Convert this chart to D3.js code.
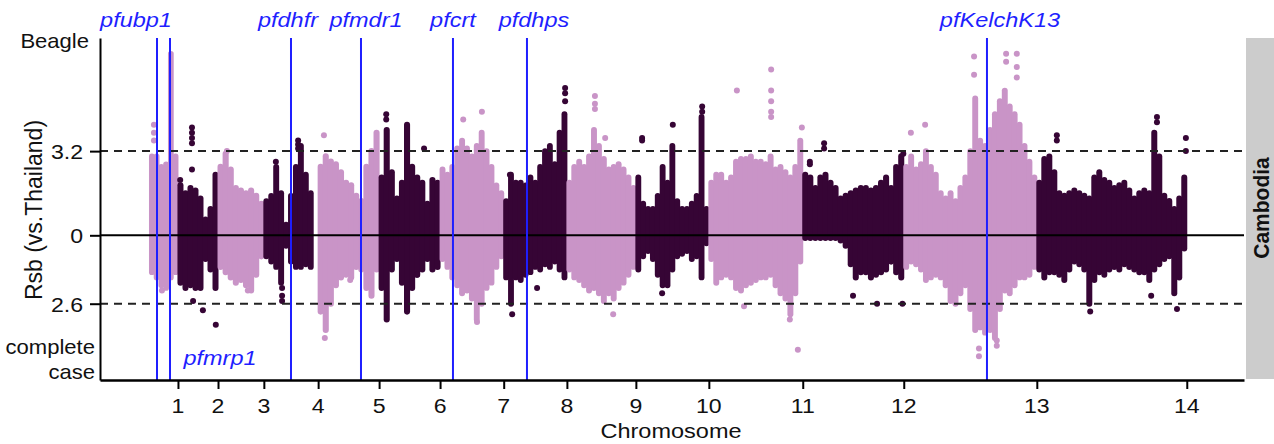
<!DOCTYPE html>
<html><head><meta charset="utf-8">
<script src="https://cdn.jsdelivr.net/npm/d3@7"></script>
<style>body{margin:0;background:#fff} text{font-family:"Liberation Sans",Arial,Helvetica,sans-serif}</style>
</head><body><svg id="chart" width="1274" height="444"></svg>
<script>
// ---------------- data ----------------
const chromLabels = ["1","2","3","4","5","6","7","8","9","10","11","12","13","14"];
// cumulative chromosome end positions (Mb)
const chromEnds = [0.64, 1.54, 2.57, 3.79, 5.16, 6.53, 7.96, 9.38, 10.93, 12.57, 14.68, 16.95, 19.94, 23.31];
// upper edge of the dense Rsb cloud, binned evenly along each chromosome
const rsbHigh = [
  [3.0, 3.0, 2.6, 2.7, 6.9, 3.0],
  [1.9, 1.6, 1.8, 1.7, 1.4, 0.6, 1.0, 2.3],
  [2.6, 3.1, 2.5, 1.8, 1.7, 1.6, 1.7, 1.5, 1.2],
  [1.3, 1.5, 2.6, 1.6, 0.4, 1.5, 2.6, 3.4, 2.3, 1.6, null],
  [2.6, 3.0, 2.8, 2.7, 2.4, 2.0, 1.9, 1.5, 1.3, 2.6, 3.2, 3.9],
  [2.2, 4.0, 2.4, 1.4, 2.0, 4.2, 2.6, 2.2, 2.0, 1.2, 2.1, 2.0],
  [2.5, 2.3, 2.6, 3.3, 3.6, 3.3, 3.0, 3.4, 3.9, 3.2, 2.6, 1.9, 1.6],
  [1.3, 2.3, 2.0, 2.0, 1.9, 2.2, 2.0, 2.6, 3.2, 3.4, 2.7, 3.9, 4.6],
  [2.0, 2.6, 2.8, 2.6, 3.0, 4.0, 3.4, 2.9, 2.5, 2.6, 2.7, 2.5, 2.2, 1.8],
  [2.2, 1.2, 1.0, 1.0, 1.5, 2.6, 2.0, 3.4, 1.3, 1.0, 1.0, 1.2, 1.5, 4.5, 1.0],
  [2.0, 2.3, 2.3, 2.0, 2.2, 2.8, 2.9, 2.9, 3.0, 2.8, 2.8, 2.7, 3.0, 2.5, 2.6, 2.4, 2.2, 2.6, 3.6],
  [2.3, 2.2, 1.8, 2.2, 2.3, 2.0, 1.8, 1.4, 1.5, 1.6, 1.7, 1.8, 1.8, 1.7, 1.8, 2.0, 2.2, 1.8, 2.6, 3.0],
  [2.6, 3.0, 2.5, 2.7, 3.2, 2.6, 2.3, 1.6, 1.4, 1.6, 1.3, 1.8, 2.2, 3.2, 5.2, 3.6, 3.4, 4.0, 4.6, 5.1, 5.5, 4.9, 4.6, 4.2, 3.4, 2.8, 2.2],
  [2.0, 2.9, 3.0, 2.4, 1.6, 1.5, 1.6, 1.7, 1.6, 1.5, 1.4, 2.2, 2.4, 2.1, 2.0, 1.8, 1.9, 2.0, 1.7, 1.4, 1.6, 1.7, 1.6, 3.9, 3.0, 1.5, 1.3, 1.0, 1.4, 2.2]
];
// lower edge of the dense Rsb cloud
const rsbLow = [
  [-1.4, -1.6, -1.9, -2.0, -1.6, -1.4],
  [-1.8, -2.0, -1.9, -2.0, -2.0, -0.9, -1.3, -2.0],
  [-1.2, -1.4, -1.6, -1.8, -1.7, -1.9, -2.1, -1.5, -0.8],
  [-0.8, -1.0, -1.2, -1.8, -0.4, -1.0, -1.2, -1.2, -1.1, -1.2, null],
  [-2.9, -3.6, -2.6, -1.9, -1.6, -1.5, -1.6, -1.2, -1.3, -2.0, -2.3, -1.3],
  [-2.0, -3.2, -1.3, -0.9, -1.8, -2.9, -2.0, -1.5, -1.3, -0.9, -1.3, -1.2],
  [-0.9, -1.2, -1.6, -1.9, -2.2, -2.1, -2.4, -3.2, -2.6, -2.0, -1.8, -1.2, -0.8],
  [-1.6, -2.6, -1.6, -1.7, -1.5, -1.4, -1.2, -1.3, -1.1, -1.2, -1.0, -1.3, -1.6],
  [-1.3, -1.6, -1.7, -1.9, -2.1, -2.0, -2.2, -2.5, -2.2, -2.4, -2.0, -1.8, -1.5, -1.2],
  [-1.3, -0.8, -0.6, -0.9, -1.5, -1.9, -1.9, -1.3, -0.8, -0.7, -0.6, -0.9, -0.8, -1.6, -0.3],
  [-0.9, -1.8, -1.6, -1.5, -1.6, -2.0, -2.1, -1.9, -1.8, -1.7, -1.6, -1.6, -1.5, -1.9, -2.2, -2.4, -3.0, -2.2, -1.0],
  [-0.1, -0.1, -0.1, -0.1, -0.1, -0.1, -0.1, -0.2, -0.4, -1.1, -1.6, -1.4, -1.4, -1.6, -1.5, -1.4, -1.3, -1.0, -1.4, -1.6],
  [-1.2, -1.0, -1.1, -1.3, -1.7, -1.6, -1.5, -1.6, -1.9, -2.5, -2.6, -2.2, -1.9, -2.8, -3.6, -3.5, -3.7, -3.6, -3.9, -2.8, -2.1, -2.2, -1.9, -1.6, -1.6, -1.5, -1.2],
  [-1.3, -1.6, -1.4, -1.4, -1.5, -1.7, -1.3, -1.0, -1.1, -1.3, -2.6, -1.7, -1.4, -1.5, -1.3, -1.2, -1.3, -1.1, -1.2, -1.3, -1.4, -1.4, -1.7, -1.3, -1.1, -0.9, -0.8, -2.2, -1.6, -0.5]
];
// isolated SNPs outside the dense cloud: position (Mb) and Rsb
const outlierPos = [0.10,0.10,0.10,0.28, 0.69,0.955,0.955,0.955,0.955,0.955,0.98,1.20,1.49,
  1.74,2.21, 2.84,2.98,2.98,2.98,3.34,3.34,3.34, 3.92,4.51,3.94, 5.32,5.32,6.17,6.01,
  7.05,7.47,7.36, 8.10,8.15,8.71,9.34,9.34,9.34, 10.01,10.01,10.01,10.42,10.24,
  11.07,11.07,11.76,12.42,12.42,11.52, 13.20,13.97,13.97,13.97,13.97,13.97,14.57,13.36,14.39,14.66,
  14.84,14.84,15.16,15.16,15.81,16.35,16.92,16.94,
  17.11,17.43,18.53,18.53,18.64,18.64,19.04,19.04,19.25,19.25,19.49,19.49,19.49,
  20.39,20.39,21.14,22.51,22.64,22.64,23.09,23.29,23.29];
const outlierRsb = [4.2,3.9,3.6,-2.1, 2.1,4.1,3.9,3.7,3.5,2.5,-2.5,-2.85,-3.4,
  3.2,-2.1, 2.8,-2.0,-2.3,-2.5,3.6,3.45,3.3, 3.8,-1.7,-3.9, 4.6,4.4,3.3,-1.5,
  4.4,4.7,-3.3, 2.3,-3.0,-2.0,5.6,5.4,5.1, 5.3,5.0,4.8,-3.0,3.7,
  3.7,3.6,4.2,4.9,4.7,-2.2, 5.5,6.3,5.5,5.1,4.7,4.5,-4.35,-2.7,-3.2,4.1,
  2.8,2.7,3.5,3.3,-2.3,-2.6,-2.6,3.1,
  3.9,4.2,6.8,6.1,-4.6,-4.3,-4.2,-4.0,6.9,6.6,6.9,6.4,6.0,
  3.8,3.6,-2.9,-2.3,4.5,4.3,-2.8,3.7,3.2];
const geneNames = ["pfubp1","pfmrp1","pfdhfr","pfmdr1","pfcrt","pfdhps","pfKelchK13"];
const genePos = [0.169, 0.461, 3.18, 4.753, 6.82, 8.483, 18.82];
const yTickValues = [3.2, 0, -2.6];
const thresholds = [3.2, -2.6];
const yEndLabels = ["Beagle", "complete", "case"];
const xTitle = "Chromosome";
const yTitle = "Rsb (vs.Thailand)";
const panelLabel = "Cambodia";

// ---------------- drawing ----------------
const svg = d3.select("#chart");
const x = d3.scaleLinear().domain([-1.112, 24.596]).range([100, 1244]);
const y = d3.scaleLinear().domain([-5.5, 7.5]).range([380, 38]);
const colors = ["#c994c7", "#360535"];
const blue = "#1f1fff";
const chromStarts = [0].concat(chromEnds.slice(0, -1));

function txt(px, py, s, o = {}) {
  const g = svg.append("g")
    .attr("transform", `translate(${px},${py}) rotate(${o.rotate || 0}) scale(${o.sx || 1.1},${o.sy || 1})`);
  g.append("text").text(s)
    .attr("text-anchor", o.anchor || "middle")
    .attr("font-size", o.size || 21)
    .attr("font-weight", o.weight || "normal")
    .attr("font-style", o.style || "normal")
    .attr("fill", o.fill || "#111");
  return g;
}

// grey panel strip
svg.append("rect").attr("x", 1246).attr("y", 38).attr("width", 28).attr("height", 341).attr("fill", "#cccccc");
txt(1269, 208, panelLabel, {rotate: -90, sx: 1, sy: 1.05, size: 21, weight: "bold"});

// dense clouds
chromEnds.forEach((end, i) => {
  const start = chromStarts[i];
  const n = rsbHigh[i].length;
  const step = (end - start) / n;
  const bw = x(start + step) - x(start);
  const g = svg.append("g").attr("stroke", colors[i % 2])
    .attr("stroke-linecap", "round").attr("stroke-width", bw + 1);
  rsbHigh[i].forEach((hi, j) => {
    const lo = rsbLow[i][j];
    if (hi == null) return;
    const cx = x(start + step * (j + 0.5));
    g.append("line").attr("x1", cx).attr("x2", cx).attr("y1", y(hi)).attr("y2", y(lo));
  });
});

// outliers
svg.append("g").selectAll("circle").data(outlierPos).join("circle")
  .attr("cx", d => x(d)).attr("cy", (d, i) => y(outlierRsb[i])).attr("r", 3)
  .attr("fill", d => colors[d3.bisectLeft(chromEnds, d) % 2]);

// threshold lines
svg.append("g").selectAll("line").data(thresholds).join("line")
  .attr("x1", 100).attr("x2", 1244).attr("y1", d => y(d)).attr("y2", d => y(d))
  .attr("stroke", "#222").attr("stroke-width", 2).attr("stroke-dasharray", "8,6");
svg.append("line").attr("x1", 100).attr("x2", 1244).attr("y1", y(0)).attr("y2", y(0))
  .attr("stroke", "#000").attr("stroke-width", 2);

// gene lines
svg.append("g").selectAll("line").data(genePos).join("line")
  .attr("x1", d => x(d)).attr("x2", d => x(d)).attr("y1", y(7.5)).attr("y2", y(-5.5))
  .attr("stroke", blue).attr("stroke-width", 2);
const labelDx = {pfubp1: -21, pfmrp1: 50, pfdhfr: -3, pfmdr1: 5, pfcrt: 0, pfdhps: 7, pfKelchK13: 13};
geneNames.forEach((nm, i) => {
  const ly = nm === "pfmrp1" ? 365 : 27;
  txt(x(genePos[i]) + labelDx[nm], ly, nm, {style: "italic", fill: blue, sx: 1.12});
});

// axes
const xAxis = svg.append("g").attr("transform", "translate(0,380)")
  .call(d3.axisBottom(x).tickValues(chromEnds).tickSize(9).tickSizeOuter(0).tickFormat(""));
xAxis.select(".domain").attr("stroke-width", 2.5);
xAxis.selectAll(".tick line").attr("stroke-width", 2);
chromEnds.forEach((v, i) => txt(x(v), 413, chromLabels[i]));
txt(671, 438, xTitle, {sx: 1.12});

const yAxis = svg.append("g").attr("transform", "translate(100,0)")
  .call(d3.axisLeft(y).tickValues(yTickValues).tickSize(10).tickSizeOuter(0).tickFormat(""));
yAxis.select(".domain").attr("stroke-width", 2);
yAxis.selectAll(".tick line").attr("stroke-width", 2);
yTickValues.forEach(v => txt(83, y(v) + 8, String(Math.abs(v)), {anchor: "end"}));
txt(89, 48, yEndLabels[0], {anchor: "end", sx: 1.05});
txt(95, 354, yEndLabels[1], {anchor: "end", sx: 1.05});
txt(95, 379, yEndLabels[2], {anchor: "end", sx: 1.05});
txt(42, 210, yTitle, {rotate: -90, sx: 1, sy: 1.08, size: 23});
</script></body></html>
